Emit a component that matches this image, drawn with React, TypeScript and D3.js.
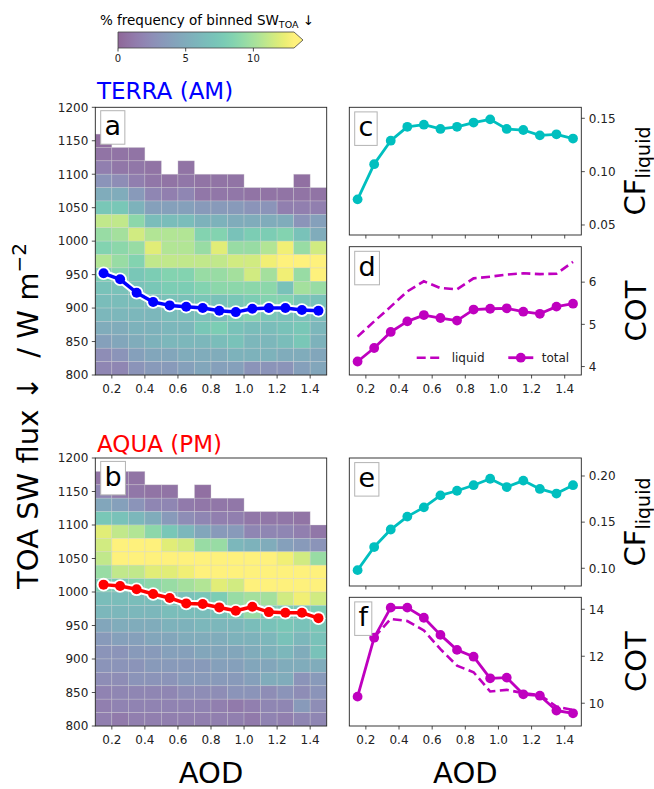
import React from "react";
import * as d3 from "d3";

// AOD bin centres / edges
const aod = [0.15, 0.25, 0.35, 0.45, 0.55, 0.65, 0.75, 0.85, 0.95, 1.05, 1.15, 1.25, 1.35, 1.45];
const aodEdges = [0.1, 0.2, 0.3, 0.4, 0.5, 0.6, 0.7, 0.8, 0.9, 1.0, 1.1, 1.2, 1.3, 1.4, 1.5];
const aodTicks = [0.2, 0.4, 0.6, 0.8, 1.0, 1.2, 1.4];

// SW flux bin edges (top -> bottom) and ticks
const fluxEdges = [1200, 1180, 1160, 1140, 1120, 1100, 1080, 1060, 1040, 1020, 1000, 980, 960, 940, 920, 900, 880, 860, 840, 820, 800];
const fluxTicks = [800, 850, 900, 950, 1000, 1050, 1100, 1150, 1200];
const cbTicks = [0, 5, 10];

// mean SW flux per AOD bin
const terraFlux = [952, 943, 923, 909, 904, 902, 900, 896, 894, 899, 900, 900, 897, 896];
const aquaFlux = [1011, 1009, 1004, 997, 991, 983, 982, 977, 972, 978, 970, 969, 969, 961];

// liquid cloud fraction
const terraCF = [0.074, 0.107, 0.129, 0.142, 0.144, 0.14, 0.142, 0.146, 0.149, 0.14, 0.139, 0.134, 0.135, 0.131];
const aquaCF = [0.098, 0.123, 0.142, 0.156, 0.166, 0.179, 0.184, 0.19, 0.197, 0.188, 0.195, 0.186, 0.181, 0.19];

// cloud optical thickness
const terraCOTtotal = [4.12, 4.44, 4.82, 5.07, 5.22, 5.15, 5.09, 5.35, 5.37, 5.38, 5.3, 5.25, 5.42, 5.49];
const terraCOTliquid = [4.71, 5.07, 5.42, 5.78, 6.02, 5.86, 5.83, 6.09, 6.13, 6.18, 6.21, 6.19, 6.2, 6.48];
const aquaCOTtotal = [10.28, 12.79, 14.07, 14.07, 13.64, 12.91, 12.27, 11.98, 11.06, 11.09, 10.38, 10.32, 9.69, 9.57];
const aquaCOTliquid = [null, 12.8, 13.59, 13.5, 13.1, 12.3, 11.6, 11.32, 10.5, 10.57, 10.43, 10.35, 9.86, 9.71];

// % frequency of binned SW (rows top -> bottom, cols by AOD)
const terraFreq = [
  [null, null, null, null, null, null, null, null, null, null, null, null, null, null],
  [null, null, null, null, null, null, null, null, null, null, null, null, null, null],
  [0.5, null, null, null, null, null, null, null, null, null, null, null, null, null],
  [0.8, 0.8, 0.8, null, null, null, null, null, null, null, null, null, null, null],
  [1.5, 1, 1, 0.8, null, 0.8, null, null, null, null, null, null, null, null],
  [3, 2.5, 1.5, 1, 0.8, 1, 0.8, 0.8, 0.8, null, null, null, 0.6, null],
  [5, 5, 3.5, 2, 1.5, 2, 1, 1, 1, 0.8, 0.8, 0.8, 0.8, 0.8],
  [7.5, 7.5, 5.5, 4, 4, 4, 3.5, 3.5, 3.5, 3, 3, 1.5, 1.5, 1.5],
  [11, 11, 9, 6.5, 6.5, 6.5, 5.5, 5.5, 5, 5, 5, 5, 3, 4],
  [9.5, 10, 11.5, 10.5, 10.5, 10.5, 8.5, 8.5, 7, 8, 8, 8.5, 7, 5],
  [8.5, 9, 9.5, 12, 10.5, 10.5, 9.5, 12, 9.5, 9.5, 10.5, 12.5, 9.5, 11.5],
  [10.5, 9.5, 8.5, 11, 11, 11, 11, 11, 11.5, 11.5, 12.5, 13, 13, 13],
  [8, 8.5, 7.5, 8, 8.5, 8.5, 9.5, 9.5, 10, 11.5, 10, 12.5, 9.5, 13],
  [7, 7, 7, 7.5, 8, 8, 8.5, 9, 9, 9, 9, 7, 10, 9.5],
  [6.5, 6.5, 6.5, 6.5, 7, 7, 7.5, 7, 7.5, 8, 8.5, 8.5, 7.5, 7],
  [6, 6, 6, 6, 6.5, 6.5, 7, 6.5, 8, 8.5, 7.5, 7, 7, 6.5],
  [5, 5, 5.5, 5.5, 6, 6, 7.5, 8, 7, 6.5, 6.5, 7, 7.5, 6],
  [4, 4.5, 5, 5.5, 6, 6, 6, 6.5, 7, 6, 6, 6.5, 7.5, 5.5],
  [2.5, 3, 4, 4.5, 4.5, 5, 5, 5, 5.5, 5.5, 5.5, 5, 5, 4.5],
  [2, 2, 3, 3.5, 3.5, 4, 4.5, 4, 4, 3, 3, 3, 4, 4.5],
];

const aquaFreq = [
  [null, null, null, null, null, null, null, null, null, null, null, null, null, null],
  [0.8, 0.8, 0.8, null, null, null, null, null, null, null, null, null, null, null],
  [2, 1.2, 1, 0.8, 0.8, null, 0.6, null, null, null, null, null, null, null],
  [4.5, 4, 3, 2, 2, 1.2, 1, 1, 1, null, null, null, null, null],
  [7.5, 7, 6, 5, 3.5, 2.5, 2, 1.5, 1.5, 1, 1, 1, 0.8, null],
  [12, 11, 10.5, 9, 7.5, 6, 4.5, 3.5, 3.5, 2, 2, 2, 1.5, 1],
  [11.5, 13, 13, 13, 12, 11.5, 9.5, 9.5, 6, 5.5, 5, 4, 3.5, 3],
  [11, 13, 13, 13, 13, 13, 13, 13, 13, 13, 13, 12.5, 11.5, 9.5],
  [9.5, 11, 11, 12, 12, 12.5, 13, 13, 13, 13, 13, 13, 13, 13],
  [8, 7.5, 8.5, 9, 9.5, 10, 10.5, 12, 11.5, 13, 13, 13, 13, 13],
  [6.5, 6.5, 6.5, 6.5, 7, 7, 7.5, 8, 9.5, 10, 10, 11.5, 12.5, 11.5],
  [6, 6, 6, 6, 6.5, 6.5, 6.5, 7, 8, 9.5, 8, 8, 7.5, 8],
  [4.5, 5, 5, 5, 5.5, 5.5, 6, 6, 6, 6.5, 7, 7.5, 7, 7.5],
  [3.5, 4, 4, 4.5, 4.5, 5, 5, 5, 5.5, 5.5, 6, 7, 6, 7],
  [3, 3, 3.5, 3.5, 4, 4, 4.5, 4.5, 4.5, 5, 5.5, 6, 5, 7],
  [3, 3, 3, 3.5, 3.5, 3.5, 3.5, 4, 4, 4.5, 4.5, 5, 5, 5],
  [2.5, 2.5, 3, 3, 3, 3.5, 3.5, 3.5, 3.5, 4, 5, 5, 3, 3.5],
  [1.8, 2, 2, 2, 2, 2.5, 2.5, 2.5, 3, 3, 2.5, 3, 2.5, 3],
  [1.5, 1.8, 1.8, 1.8, 1.8, 1.8, 1.8, 1.5, 1.2, 1.5, 2, 2, 3.5, 2.5],
  [1.5, 1.2, 1.5, 1.5, 1.5, 1.5, 1.5, 1.5, 1.5, 1.2, 1.8, 1.5, 2, 2],
];

const FONT = "DejaVu Sans";
const AXIS = "#222";
const VMAX = 13;
const ALPHA = 0.6;
const CYAN = "#00bfbf";
const MAGENTA = "#bf00bf";

// panel frames
const LX0 = 95.3, LX1 = 326.7;
const RX0 = 349.3, RX1 = 581.3;

const letterEm = { a: 0.613, b: 0.635, c: 0.55, d: 0.635, e: 0.615, f: 0.352 };

const LetterBox = ({ x, y, letter }) => {
  const w = letterEm[letter] * 27 + 7.6;
  return (
    <g>
      <rect x={x} y={y} width={w} height={33.5} fill="white" stroke="#b3b3b3" strokeWidth={1} />
      <text x={x + w / 2} y={y + 24.5} textAnchor="middle" fontSize={27} fill="#000">
        {letter}
      </text>
    </g>
  );
};

const XAxis = ({ x, y, labels }) => (
  <g>
    {aodTicks.map((t) => (
      <g key={t}>
        <line x1={x(t)} x2={x(t)} y1={y} y2={y + 3.5} stroke={AXIS} strokeWidth={0.8} />
        {labels && (
          <text x={x(t)} y={y + 17.5} textAnchor="middle" fontSize={12} fill={AXIS}>
            {t.toFixed(1)}
          </text>
        )}
      </g>
    ))}
  </g>
);

const FluxPanel = ({ y0, y1, freq, flux, color, letter }) => {
  const x = d3.scaleLinear().domain([0.1, 1.5]).range([LX0, LX1]);
  const y = d3.scaleLinear().domain([800, 1200]).range([y1, y0]);
  const line = d3
    .line()
    .x((d, i) => x(aod[i]))
    .y((d) => y(d));
  const path = line(flux);

  return (
    <g>
      {freq.map((row, r) =>
        row.map((v, c) =>
          v == null ? null : (
            <rect
              key={`${r}-${c}`}
              x={x(aodEdges[c])}
              y={y(fluxEdges[r])}
              width={x(aodEdges[c + 1]) - x(aodEdges[c])}
              height={y(fluxEdges[r + 1]) - y(fluxEdges[r])}
              fill={d3.interpolateViridis(Math.min(v, VMAX) / VMAX)}
              fillOpacity={ALPHA}
              stroke="#d9d9d9"
              strokeOpacity={0.55}
              strokeWidth={0.6}
            />
          )
        )
      )}
      <path d={path} fill="none" stroke="white" strokeWidth={7.5} strokeLinejoin="round" />
      {flux.map((d, i) => (
        <circle key={i} cx={x(aod[i])} cy={y(d)} r={6.8} fill="white" />
      ))}
      <path d={path} fill="none" stroke={color} strokeWidth={3.5} strokeLinejoin="round" />
      {flux.map((d, i) => (
        <circle key={i} cx={x(aod[i])} cy={y(d)} r={5} fill={color} />
      ))}
      <rect x={LX0} y={y0} width={LX1 - LX0} height={y1 - y0} fill="none" stroke={AXIS} strokeWidth={0.9} />
      {fluxTicks.map((t) => (
        <g key={t}>
          <line x1={LX0 - 3.5} x2={LX0} y1={y(t)} y2={y(t)} stroke={AXIS} strokeWidth={0.8} />
          <text x={LX0 - 7} y={y(t) + 4.3} textAnchor="end" fontSize={12} fill={AXIS}>
            {t}
          </text>
        </g>
      ))}
      <XAxis x={x} y={y1} labels={true} />
      <LetterBox x={LX0 + 5.4} y={y0 + 3.4} letter={letter} />
    </g>
  );
};

const ProfilePanel = ({ y0, y1, domain, ticks, fmt, total, liquid, color, letter, labels, legend }) => {
  const x = d3.scaleLinear().domain([0.1, 1.5]).range([RX0, RX1]);
  const y = d3.scaleLinear().domain(domain).range([y1, y0]);
  const line = d3
    .line()
    .defined((d) => d != null)
    .x((d, i) => x(aod[i]))
    .y((d) => y(d));

  return (
    <g>
      {liquid && (
        <path d={line(liquid)} fill="none" stroke={color} strokeWidth={2.6} strokeDasharray="9,4.5" />
      )}
      <path d={line(total)} fill="none" stroke={color} strokeWidth={2.8} strokeLinejoin="round" />
      {total.map((d, i) => (
        <circle key={i} cx={x(aod[i])} cy={y(d)} r={4.9} fill={color} />
      ))}
      <rect x={RX0} y={y0} width={RX1 - RX0} height={y1 - y0} fill="none" stroke={AXIS} strokeWidth={0.9} />
      {ticks.map((t) => (
        <g key={t}>
          <line x1={RX1} x2={RX1 + 3.5} y1={y(t)} y2={y(t)} stroke={AXIS} strokeWidth={0.8} />
          <text x={RX1 + 7.5} y={y(t) + 4.3} textAnchor="start" fontSize={12} fill={AXIS}>
            {fmt(t)}
          </text>
        </g>
      ))}
      <XAxis x={x} y={y1} labels={labels} />
      <LetterBox x={RX0 + 5.4} y={y0 + 4.6} letter={letter} />
      {legend && (
        <g fontSize={12} fill={AXIS}>
          <line x1={416.7} x2={440} y1={357.7} y2={357.7} stroke={color} strokeWidth={2.6} strokeDasharray="9,4.5" />
          <text x={451.7} y={362}>liquid</text>
          <line x1={508.3} x2={533.3} y1={357.7} y2={357.7} stroke={color} strokeWidth={2.8} />
          <circle cx={520.8} cy={357.7} r={4.9} fill={color} />
          <text x={541.7} y={362}>total</text>
        </g>
      )}
    </g>
  );
};

const Colorbar = () => {
  const c = d3.scaleLinear().domain([0, VMAX]).range([118, 294]);
  const stops = d3.range(0, 1.0001, 0.05);
  return (
    <g>
      <defs>
        <linearGradient id="cbGrad" x1="0" x2="1" y1="0" y2="0">
          {stops.map((s) => (
            <stop key={s} offset={s} stopColor={d3.interpolateViridis(s)} stopOpacity={ALPHA} />
          ))}
        </linearGradient>
      </defs>
      <rect x={c(0)} y={32} width={c(VMAX) - c(0)} height={16} fill="url(#cbGrad)" />
      <polygon
        points={`${c(VMAX)},32 ${c(VMAX) + 9},40 ${c(VMAX)},48`}
        fill={d3.interpolateViridis(1)}
        fillOpacity={ALPHA}
      />
      <polygon
        points={`${c(0)},32 ${c(VMAX)},32 ${c(VMAX) + 9},40 ${c(VMAX)},48 ${c(0)},48`}
        fill="none"
        stroke="#444"
        strokeWidth={0.8}
      />
      {cbTicks.map((t) => (
        <g key={t}>
          <line x1={c(t)} x2={c(t)} y1={48} y2={51.5} stroke={AXIS} strokeWidth={0.8} />
          <text x={c(t)} y={62} textAnchor="middle" fontSize={10} fill={AXIS}>
            {t}
          </text>
        </g>
      ))}
      <text x={207} y={25} textAnchor="middle" fontSize={13.5} fill="#000">
        % frequency of binned SW
        <tspan fontSize={9.5} dy={3}>TOA</tspan>
        <tspan dy={-3}> ↓</tspan>
      </text>
    </g>
  );
};

export default function App() {
  return (
    <svg
      width={654}
      height={789}
      style={{ position: "absolute", left: 0, top: 0, background: "white" }}
      fontFamily={FONT}
    >
      <rect width={654} height={789} fill="white" />
      <Colorbar />

      <text x={97} y={99} fontSize={23} fill="#0000ff">TERRA (AM)</text>
      <text x={97} y={452} fontSize={23} fill="#ff0000">AQUA (PM)</text>

      <FluxPanel y0={107.3} y1={375} freq={terraFreq} flux={terraFlux} color="#0000ff" letter="a" />
      <FluxPanel y0={458} y1={726} freq={aquaFreq} flux={aquaFlux} color="#ff0000" letter="b" />

      <ProfilePanel
        y0={107.3} y1={235} domain={[0.0406, 0.1603]} ticks={[0.05, 0.1, 0.15]}
        fmt={(t) => t.toFixed(2)} total={terraCF} color={CYAN} letter="c" labels={false}
      />
      <ProfilePanel
        y0={246.7} y1={375} domain={[3.8, 6.84]} ticks={[4, 5, 6]}
        fmt={(t) => String(t)} total={terraCOTtotal} liquid={terraCOTliquid}
        color={MAGENTA} letter="d" labels={true} legend={true}
      />
      <ProfilePanel
        y0={458} y1={586} domain={[0.0808, 0.2195]} ticks={[0.1, 0.15, 0.2]}
        fmt={(t) => t.toFixed(2)} total={aquaCF} color={CYAN} letter="e" labels={false}
      />
      <ProfilePanel
        y0={597.3} y1={726} domain={[9.03, 14.51]} ticks={[10, 12, 14]}
        fmt={(t) => String(t)} total={aquaCOTtotal} liquid={aquaCOTliquid}
        color={MAGENTA} letter="f" labels={true}
      />

      {/* axis titles */}
      <text
        transform="translate(38,416) rotate(-90)"
        textAnchor="middle"
        fontSize={29}
        fill="#000"
        style={{ whiteSpace: "pre" }}
      >
        {"TOA SW flux ↓  / W m"}
        <tspan fontSize={20} dy={-12}>−2</tspan>
      </text>
      <text x={211} y={783} textAnchor="middle" fontSize={29} fill="#000">AOD</text>
      <text x={465.3} y={783} textAnchor="middle" fontSize={29} fill="#000">AOD</text>

      <text transform="translate(645,171) rotate(-90)" textAnchor="middle" fontSize={29} fill="#000">
        CF<tspan fontSize={19} dy={5}>liquid</tspan>
      </text>
      <text transform="translate(646,311) rotate(-90)" textAnchor="middle" fontSize={29} fill="#000">COT</text>
      <text transform="translate(645,522) rotate(-90)" textAnchor="middle" fontSize={29} fill="#000">
        CF<tspan fontSize={19} dy={5}>liquid</tspan>
      </text>
      <text transform="translate(646,661.6) rotate(-90)" textAnchor="middle" fontSize={29} fill="#000">COT</text>
    </svg>
  );
}
